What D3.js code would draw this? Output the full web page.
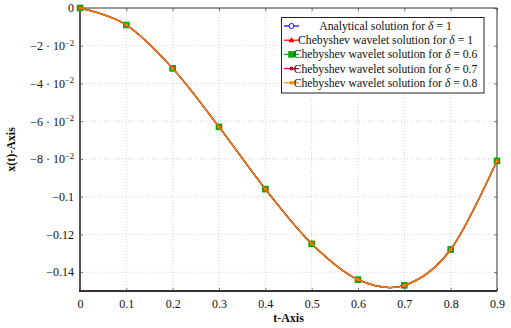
<!DOCTYPE html>
<html><head><meta charset="utf-8">
<script src="https://cdn.jsdelivr.net/npm/d3@7"></script>
<style>
body{margin:0;background:#fff;}
</style></head>
<body><svg id="c" width="511" height="328"></svg>
<script>
const tValues = [0, 0.1, 0.2, 0.3, 0.4, 0.5, 0.6, 0.7, 0.8, 0.9];
const analytical = [0, -0.009, -0.032, -0.063, -0.096, -0.125, -0.144, -0.147, -0.128, -0.081];
const cheb10 = [0, -0.009, -0.032, -0.063, -0.096, -0.125, -0.144, -0.147, -0.128, -0.081];
const cheb06 = [0, -0.009, -0.032, -0.063, -0.096, -0.125, -0.144, -0.147, -0.128, -0.081];
const cheb07 = [0, -0.009, -0.032, -0.063, -0.096, -0.125, -0.144, -0.147, -0.128, -0.081];
const cheb08 = [0, -0.009, -0.032, -0.063, -0.096, -0.125, -0.144, -0.147, -0.128, -0.081];
const xTicks = [0, 0.1, 0.2, 0.3, 0.4, 0.5, 0.6, 0.7, 0.8, 0.9];
const yTicks = [0, -0.02, -0.04, -0.06, -0.08, -0.1, -0.12, -0.14];
const yTickLabels = ["0", "−2 · 10^−2", "−4 · 10^−2", "−6 · 10^−2", "−8 · 10^−2", "−0.1", "−0.12", "−0.14"];
const seriesNames = ["Analytical solution for δ = 1", "Chebyshev wavelet solution for δ = 1",
  "Chebyshev wavelet solution for δ = 0.6", "Chebyshev wavelet solution for δ = 0.7",
  "Chebyshev wavelet solution for δ = 0.8"];

const series = [
  {name: seriesNames[0], values: analytical, color: "#0000ff", marker: "circle"},
  {name: seriesNames[1], values: cheb10, color: "#ff0000", marker: "triangle"},
  {name: seriesNames[2], values: cheb06, color: "#00b000", marker: "square"},
  {name: seriesNames[3], values: cheb07, color: "#bf0040", marker: "diamond"},
  {name: seriesNames[4], values: cheb08, color: "#ff8000", marker: "smallsquare"}
];

const FONT = "Liberation Serif";
const L = 80, R = 497, T = 8, B = 291;
const x = d3.scaleLinear().domain([0, 0.9]).range([L, R]);
const y = d3.scaleLinear().domain([-0.15, 0]).range([B, T]);
const svg = d3.select("#c").attr("font-family", FONT);

// grid
const grid = svg.append("g").attr("stroke", "#c8c8c8").attr("stroke-width", 0.8).attr("stroke-dasharray", "1,2");
xTicks.forEach(t => { if (t > 0 && t < 0.9) grid.append("line").attr("x1", x(t)).attr("x2", x(t)).attr("y1", T).attr("y2", B); });
yTicks.forEach(t => { if (t < 0) grid.append("line").attr("x1", L).attr("x2", R).attr("y1", y(t)).attr("y2", y(t)); });

// axes with inward ticks
const xb = svg.append("g").attr("transform", `translate(0,${B})`)
  .call(d3.axisBottom(x).tickValues(xTicks).tickSize(-3).tickPadding(8).tickFormat(d3.format("")));
const xt = svg.append("g").attr("transform", `translate(0,${T})`)
  .call(d3.axisTop(x).tickValues(xTicks).tickSize(-3).tickFormat(""));
const yl = svg.append("g").attr("transform", `translate(${L},0)`)
  .call(d3.axisLeft(y).tickValues(yTicks).tickSize(-3).tickPadding(6).tickFormat((d, i) => yTickLabels[i]));
const yr = svg.append("g").attr("transform", `translate(${R},0)`)
  .call(d3.axisRight(y).tickValues(yTicks).tickSize(-3).tickFormat(""));
[xb, xt, yl, yr].forEach(g => {
  g.attr("font-family", FONT).attr("font-size", 12);
  g.select(".domain").remove();
  g.selectAll(".tick line").attr("stroke", "#555").attr("stroke-width", 0.8);
  g.selectAll("text").attr("fill", "#111");
});
// superscripts on y tick labels
yl.selectAll(".tick text").each(function() {
  const t = d3.select(this), s = t.text();
  if (s.includes("^")) {
    const [base, exp] = s.split("^");
    t.text(null);
    t.append("tspan").text(base);
    t.append("tspan").attr("dy", -4.5).attr("font-size", 8.5).text(exp);
  }
});
// frame
svg.append("line").attr("x1", L).attr("x2", R).attr("y1", T).attr("y2", T).attr("stroke", "#333").attr("stroke-width", 1);
svg.append("line").attr("x1", R).attr("x2", R).attr("y1", T).attr("y2", B).attr("stroke", "#333").attr("stroke-width", 1);
svg.append("line").attr("x1", L).attr("x2", L).attr("y1", T).attr("y2", B + 1).attr("stroke", "#555").attr("stroke-width", 2);
svg.append("line").attr("x1", L - 1).attr("x2", R).attr("y1", B).attr("y2", B).attr("stroke", "#333").attr("stroke-width", 2);

function drawMarker(g, type, color, cx, cy) {
  if (type === "circle") g.append("circle").attr("cx", cx).attr("cy", cy).attr("r", 2.5).attr("fill", "#fff").attr("stroke", color).attr("stroke-width", 1);
  else if (type === "triangle") g.append("path").attr("d", `M${cx},${cy-3.2}L${cx+3},${cy+2}L${cx-3},${cy+2}Z`).attr("fill", color);
  else if (type === "square") g.append("rect").attr("x", cx - 3.3).attr("y", cy - 3.3).attr("width", 6.6).attr("height", 6.6).attr("fill", color);
  else if (type === "diamond") g.append("circle").attr("cx", cx).attr("cy", cy).attr("r", 2).attr("fill", color);
  else if (type === "smallsquare") g.append("rect").attr("x", cx - 1.6).attr("y", cy - 1.6).attr("width", 3.2).attr("height", 3.2).attr("fill", color);
}

const line = d3.line().x((d, i) => x(tValues[i])).y(d => y(d)).curve(d3.curveCardinal.tension(0));
series.forEach(s => {
  const g = svg.append("g");
  g.append("path").attr("d", line(s.values)).attr("fill", "none").attr("stroke", s.color).attr("stroke-width", 1.3);
  s.values.forEach((v, i) => drawMarker(g, s.marker, s.color, x(tValues[i]), y(v)));
});

// legend
const lg = svg.append("g");
lg.append("rect").attr("x", 281.5).attr("y", 17.5).attr("width", 202.5).attr("height", 75.5)
  .attr("fill", "#fff").attr("stroke", "#222").attr("stroke-width", 1);
series.forEach((s, i) => {
  const cy = 26 + i * 14.2;
  lg.append("line").attr("x1", 284).attr("x2", 299).attr("y1", cy).attr("y2", cy).attr("stroke", s.color).attr("stroke-width", 1.2);
  drawMarker(lg, s.marker, s.color, 291.5, cy);
  const tx = lg.append("text").attr("x", 385.5).attr("y", cy + 4).attr("text-anchor", "middle")
    .attr("font-size", 11.7).attr("fill", "#111");
  const parts = s.name.split("δ");
  tx.append("tspan").text(parts[0]);
  tx.append("tspan").attr("font-style", "italic").text("δ");
  tx.append("tspan").text(parts[1]);
});

// axis titles
svg.append("text").attr("x", (L + R) / 2).attr("y", 322).attr("text-anchor", "middle")
  .attr("font-size", 12).attr("font-weight", "bold").attr("fill", "#111").text("t-Axis");
svg.append("text").attr("transform", `translate(15,${(T + B) / 2}) rotate(-90)`).attr("text-anchor", "middle")
  .attr("font-size", 12).attr("font-weight", "bold").attr("fill", "#111").text("x(t)-Axis");
</script></body></html>
